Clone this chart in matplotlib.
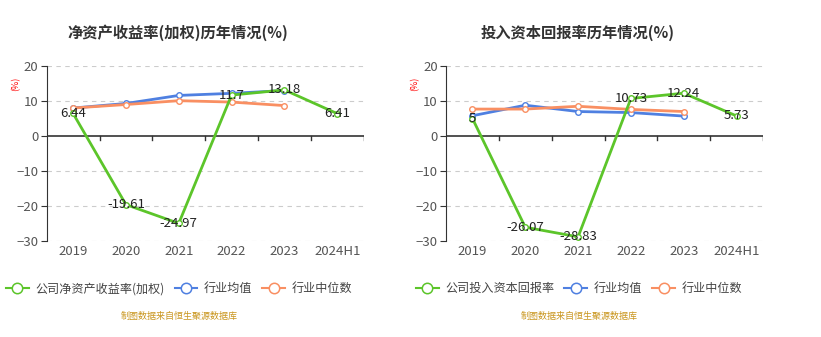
import matplotlib.pyplot as plt
from matplotlib.lines import Line2D

plt.rcParams['font.family'] = ['Noto Sans CJK SC', 'DejaVu Sans']

years = ['2019', '2020', '2021', '2022', '2023', '2024H1']

# 净资产收益率(加权)
roe_company = [6.44, -19.61, -24.97, 11.7, 13.18, 6.41]
roe_avg = [8.0, 9.3, 11.6, 12.2, 13.0]
roe_median = [8.0, 9.0, 10.1, 9.7, 8.7]

# 投入资本回报率
roic_company = [5, -26.07, -28.83, 10.73, 12.24, 5.73]
roic_avg = [5.8, 8.8, 7.0, 6.7, 5.7]
roic_median = [7.7, 7.7, 8.5, 7.6, 7.0]

GREEN = '#5cc52a'
BLUE = '#4f80e1'
ORANGE = '#f98f62'

fig = plt.figure(figsize=(8.21, 3.37), dpi=100)


def draw_panel(left, title, company, avg, median, company_name, title_x, src_x, legend_x):
    ax = fig.add_axes([left, 0.285, 0.386, 0.519])
    x = list(range(len(years)))
    kw = dict(marker='o', markersize=4, markerfacecolor='white', markeredgewidth=1.0, linewidth=2)
    ax.plot(x[:len(avg)], avg, color=BLUE, zorder=3, **kw)
    ax.plot(x[:len(median)], median, color=ORANGE, zorder=3, **kw)
    ax.plot(x, company, color=GREEN, zorder=4, **kw)
    for xi, v in zip(x, company):
        ax.text(xi, v, f'{v:g}', ha='center', va='center', fontsize=9.5, color='#222222', zorder=5)

    ax.set_xlim(-0.5, len(years) - 0.5)
    ax.set_ylim(-30, 20)
    ax.set_yticks([-30, -20, -10, 0, 10, 20])
    for g in [-30, -20, -10, 10, 20]:
        ax.axhline(g, color='#cccccc', linestyle=(0, (4, 4)), linewidth=0.8, zorder=1)
    ax.axhline(0, color='#333333', linewidth=1.2, zorder=2)
    # tick marks between categories along the zero line
    for b in range(1, len(years) + 1):
        ax.plot([b - 0.5, b - 0.5], [0, -1.2], color='#333333', linewidth=1, zorder=2)

    for s in ['top', 'right', 'bottom']:
        ax.spines[s].set_visible(False)
    ax.spines['left'].set_color('#333333')
    ax.tick_params(axis='y', length=4, color='#333333', labelsize=9.5, labelcolor='#555555', pad=2)
    ax.set_xticks(x)
    ax.set_xticklabels(years)
    ax.tick_params(axis='x', length=0, labelsize=9.5, labelcolor='#555555', pad=3)

    fig.text(left - 0.038, 0.75, '(%)', color='red', fontsize=6.5, rotation=90, ha='center', va='center')
    fig.text(title_x, 0.902, title, ha='center', va='center', fontsize=11, fontweight='bold', color='#333333')
    fig.text(src_x, 0.062, '制图数据来自恒生聚源数据库', ha='center', va='center', fontsize=6.5, color='#c9951c')

    handles = [Line2D([], [], color=c, marker='o', markersize=7.5, markerfacecolor='white',
                      markeredgewidth=1.1, linewidth=1.5)
               for c in (GREEN, BLUE, ORANGE)]
    fig.legend(handles, [company_name, '行业均值', '行业中位数'], ncol=3, frameon=False,
               loc='center left', bbox_to_anchor=(legend_x, 0.143), fontsize=8.7,
               labelcolor='#444444', handlelength=1.9, handletextpad=0.55, columnspacing=0.8,
               borderpad=0, borderaxespad=0)
    return ax


draw_panel(0.0569, '净资产收益率(加权)历年情况(%)', roe_company, roe_avg, roe_median,
           '公司净资产收益率(加权)', 0.217, 0.218, 6 / 821)
draw_panel(0.5433, '投入资本回报率历年情况(%)', roic_company, roic_avg, roic_median,
           '公司投入资本回报率', 0.704, 0.705, 416 / 821)

fig.savefig('out.png', dpi=100)
